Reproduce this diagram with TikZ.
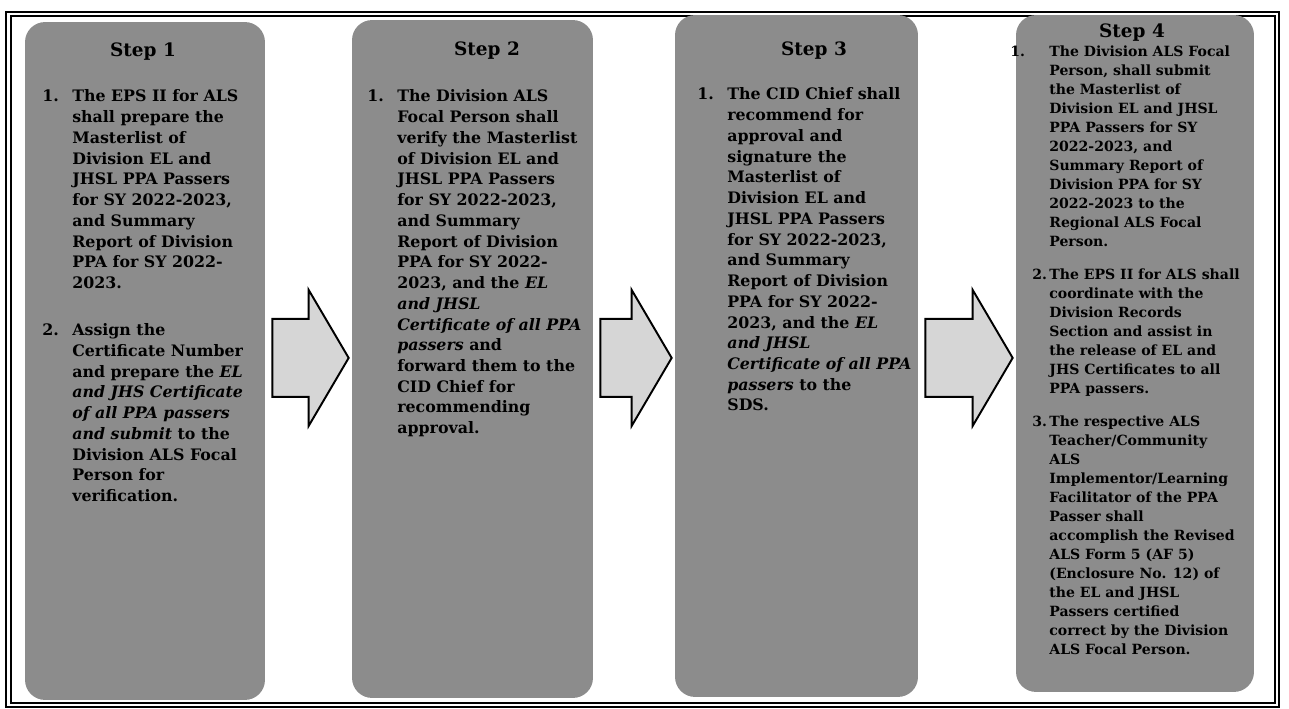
\documentclass[tikz,border=0pt]{standalone}
\usepackage{fontspec}
\setmainfont{DejaVu Serif}
\usetikzlibrary{calc}
\definecolor{alsGray}{RGB}{140,140,140}
\definecolor{alsLight}{RGB}{214,214,214}

\tikzset{
  stepbox/.style={rectangle, rounded corners=0.4cm, fill=alsGray, inner sep=0pt},
  stephead/.style={anchor=base, inner sep=0pt, font=\bfseries\fontsize{10.5}{12}\selectfont},
  steptext/.style={anchor=base west, inner sep=0pt, font=\bfseries\fontsize{9}{11.8}\selectfont},
  smalltext/.style={anchor=base west, inner sep=0pt, font=\bfseries\fontsize{8}{10.8}\selectfont},
  blockarrow/.style={draw=black, line width=1.1pt, fill=alsLight, line join=miter},
}

\begin{document}
\begin{tikzpicture}[x=0.02cm, y=-0.02cm]
  \useasboundingbox (0,0) rectangle (1289,709);

  % double frame
  \draw[line width=0.9pt] (6,12) rectangle (1279,707);
  \draw[line width=0.6pt] (11,16) rectangle (1275,703);

  % the four step panels
  \node[stepbox, minimum width=4.8cm,  minimum height=13.56cm] (s1) at (145,361) {};
  \node[stepbox, minimum width=4.82cm, minimum height=13.56cm] (s2) at (472.5,359) {};
  \node[stepbox, minimum width=4.86cm, minimum height=13.64cm] (s3) at (796.5,356) {};
  \node[stepbox, minimum width=4.76cm, minimum height=13.54cm] (s4) at (1135,353.5) {};

  \node[stephead] (h1) at (143,57) {Step 1};
  \node[stephead] (h2) at (487,56) {Step 2};
  \node[stephead] (h3) at (814,56) {Step 3};
  \node[stephead] (h4) at (1132,38) {Step 4};

  \node[steptext] (t1) at (42,102) {%
    \begin{tabular}[t]{@{}l@{}l@{}}
      \makebox[0.6cm][l]{1.} & The EPS II for ALS\\
         & shall prepare the\\
         & Masterlist of\\
         & Division EL and\\
         & JHSL PPA Passers\\
         & for SY 2022-2023,\\
         & and Summary\\
         & Report of Division\\
         & PPA for SY 2022-\\
         & 2023.\\[15pt]
      2. & Assign the\\
         & Certificate Number\\
         & and prepare the \textit{EL}\\
         & \textit{and JHS Certificate}\\
         & \textit{of all PPA passers}\\
         & \textit{and submit} to the\\
         & Division ALS Focal\\
         & Person for\\
         & verification.
    \end{tabular}};

  \node[steptext] (t2) at (367,102) {%
    \begin{tabular}[t]{@{}l@{}l@{}}
      \makebox[0.6cm][l]{1.} & The Division ALS\\
         & Focal Person shall\\
         & verify the Masterlist\\
         & of Division EL and\\
         & JHSL PPA Passers\\
         & for SY 2022-2023,\\
         & and Summary\\
         & Report of Division\\
         & PPA for SY 2022-\\
         & 2023, and the \textit{EL}\\
         & \textit{and JHSL}\\
         & \textit{Certificate of all PPA}\\
         & \textit{passers} and\\
         & forward them to the\\
         & CID Chief for\\
         & recommending\\
         & approval.
    \end{tabular}};

  \node[steptext] (t3) at (697,100) {%
    \begin{tabular}[t]{@{}l@{}l@{}}
      \makebox[0.6cm][l]{1.} & The CID Chief shall\\
         & recommend for\\
         & approval and\\
         & signature the\\
         & Masterlist of\\
         & Division EL and\\
         & JHSL PPA Passers\\
         & for SY 2022-2023,\\
         & and Summary\\
         & Report of Division\\
         & PPA for SY 2022-\\
         & 2023, and the \textit{EL}\\
         & \textit{and JHSL}\\
         & \textit{Certificate of all PPA}\\
         & \textit{passers} to the\\
         & SDS.
    \end{tabular}};

  \node[smalltext] (t4) at (1010,57) {%
    \begin{tabular}[t]{@{}l@{}l@{}}
      \makebox[0.78cm][l]{1.} & The Division ALS Focal\\
         & Person, shall submit\\
         & the Masterlist of\\
         & Division EL and JHSL\\
         & PPA Passers for SY\\
         & 2022-2023, and\\
         & Summary Report of\\
         & Division PPA for SY\\
         & 2022-2023 to the\\
         & Regional ALS Focal\\
         & Person.\\[8pt]
      \hspace{0.44cm}2. & The EPS II for ALS shall\\
         & coordinate with the\\
         & Division Records\\
         & Section and assist in\\
         & the release of EL and\\
         & JHS Certificates to all\\
         & PPA passers.\\[8pt]
      \hspace{0.44cm}3. & The respective ALS\\
         & Teacher/Community\\
         & ALS\\
         & Implementor/Learning\\
         & Facilitator of the PPA\\
         & Passer shall\\
         & accomplish the Revised\\
         & ALS Form 5 (AF 5)\\
         & (Enclosure No. 12) of\\
         & the EL and JHSL\\
         & Passers certified\\
         & correct by the Division\\
         & ALS Focal Person.
    \end{tabular}};

  % block arrows between the panels
  \foreach \a/\b in {s1/s2, s2/s3, s3/s4}
    \draw[blockarrow] let \p1=(\a.east), \p2=(\b.west) in
      (\x1+0.14cm,-6.38cm) -- (\x2-0.86cm,-6.38cm) -- (\x2-0.86cm,-5.8cm)
      -- (\x2-0.06cm,-7.16cm) -- (\x2-0.86cm,-8.52cm) -- (\x2-0.86cm,-7.94cm)
      -- (\x1+0.14cm,-7.94cm) -- cycle;
\end{tikzpicture}
\end{document}
